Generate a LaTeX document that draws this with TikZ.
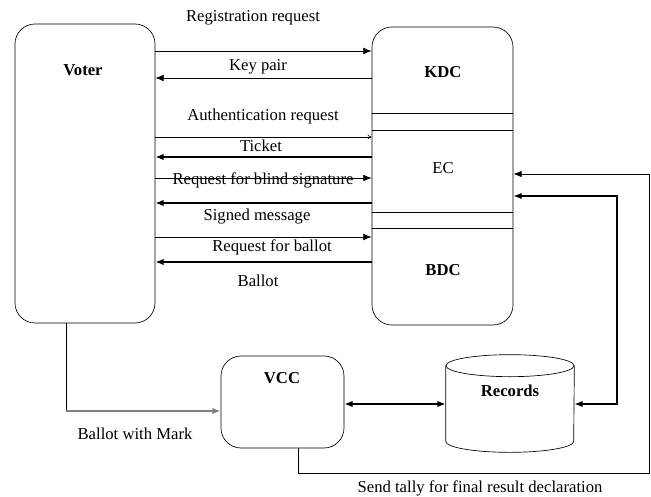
\documentclass[tikz,border=0pt]{standalone}
\usepackage{fontspec}
\setmainfont{Liberation Serif}
\usetikzlibrary{arrows.meta,fit}

\tikzset{
  box/.style={draw, rounded corners=12pt, inner sep=0pt},
  title/.style={font=\bfseries},
  req/.style={-{Latex[length=5pt,width=4pt]}, thin},
  reply/.style={-{Latex[length=5pt,width=4pt]}, line width=1.2pt},
  link/.style={{Latex[length=5pt,width=4pt]}-{Latex[length=5pt,width=4pt]}, line width=1.4pt},
}

\begin{document}
\begin{tikzpicture}[x=0.6pt, y=-0.6pt, font=\fontsize{10}{12}\selectfont]
    \useasboundingbox (0,0) rectangle (651,496);

    % The four parties
    \node[box, fit={(15,24) (155,323)}]  (voter)  {};   % Voter
    \node[box, fit={(372,27) (513,325)}] (centre) {};   % KDC, EC and BDC
    \node[box, fit={(221,356) (344,448)}] (vcc)   {};   % VCC
    \node[inner sep=0pt, fit={(446,355) (574,452)}] (records) {};   % Records

    % Records drawn as a drum
    \draw ([yshift=-6.6pt]records.north) ellipse [x radius=38.4pt, y radius=6.6pt];
    \draw ([yshift=-6.6pt]records.north west) -- ([yshift=6.6pt]records.south west)
          arc [start angle=180, end angle=360, x radius=38.4pt, y radius=6.6pt]
          -- ([yshift=-6.6pt]records.north east);

    % Split the centre box into KDC, EC and BDC
    \draw (centre.west |- 0,113) -- (centre.east |- 0,113);
    \draw (centre.west |- 0,130) -- (centre.east |- 0,130);
    \draw (centre.west |- 0,212) -- (centre.east |- 0,212);
    \draw (centre.west |- 0,228) -- (centre.east |- 0,228);

    \node[title] (voterlbl)   at (83,70)   {Voter};
    \node[title] (kdclbl)     at (443,72)  {KDC};
    \node        (eclbl)      at (443,168) {EC};
    \node[title] (bdclbl)     at (443,270) {BDC};
    \node[title] (vcclbl)     at (282,378) {VCC};
    \node[title] (recordslbl) at (510,391) {Records};

    % Messages between the voter and the centre
    \draw[req]   (voter.east |- 0,51)  -- (centre.west |- 0,51);   % Registration request
    \draw[req]   (centre.west |- 0,78) -- (voter.east |- 0,78);    % Key pair
    \draw[-{To[length=2.5pt,width=3pt]}, thin]
                 (voter.east |- 0,137) -- (centre.west |- 0,137);  % Authentication request
    \draw[reply] (centre.west |- 0,157) -- (voter.east |- 0,157);  % Ticket
    \draw[req]   (voter.east |- 0,178) -- (centre.west |- 0,178);  % Request for blind signature
    \draw[reply] (centre.west |- 0,203) -- (voter.east |- 0,203);  % Signed message
    \draw[req]   (voter.east |- 0,237) -- (centre.west |- 0,237);  % Request for ballot
    \draw[reply] (centre.west |- 0,262) -- (voter.east |- 0,262);  % Ballot

    \node (reglbl)    at (253,18)  {Registration request};
    \node (keylbl)    at (258,67)  {Key pair};
    \node (authlbl)   at (263,116) {Authentication request};
    \node (ticketlbl) at (261,146) {Ticket};
    \node (blindlbl)  at (263,180) {Request for blind signature};
    \node (signedlbl) at (257,217) {Signed message};
    \node (reqballot) at (272,247) {Request for ballot};
    \node (ballotlbl) at (258,281) {Ballot};

    % Casting, storing and tallying
    \coordinate (castturn)  at (66,411);
    \coordinate (storeturn) at (617,196);
    \coordinate (tallyturn) at (649,473);

    \draw[semithick] (voter.south -| castturn) -- (castturn);
    \draw[gray, line width=1.5pt, -{Latex[length=5pt,width=4pt]}] (castturn) -- (vcc.west |- castturn);
    \draw[link] (vcc.east |- 0,404) -- (records.west |- 0,404);
    \draw[link] (records.east |- 0,404) -| (storeturn) -- (centre.east |- storeturn);
    \draw[semithick, -{Latex[length=5pt,width=4pt]}]
        (vcc.south -| 298,0) |- (tallyturn) |- (centre.east |- 0,174);

    \node (marklbl)  at (135,434) {Ballot with Mark};
    \node (tallylbl) at (480,488) {Send tally for final result declaration};
\end{tikzpicture}
\end{document}
